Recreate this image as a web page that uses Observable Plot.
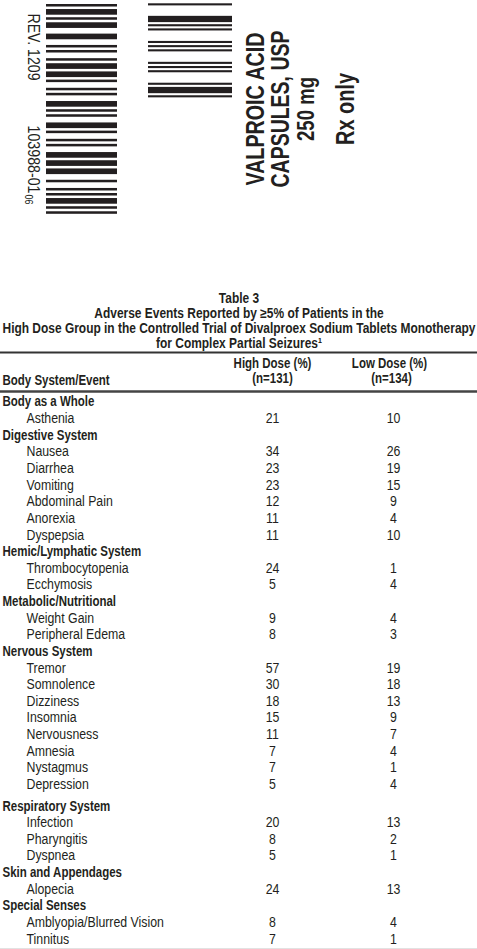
<!DOCTYPE html>
<html><head><meta charset="utf-8">
<script src="https://cdn.jsdelivr.net/npm/d3@7"></script>
<script src="https://cdn.jsdelivr.net/npm/@observablehq/plot@0.6"></script>
<style>html,body{margin:0;padding:0;background:#fff;} svg{display:block}</style>
</head><body><div id="chart"></div>
<script>
// ---------- data ----------
const titleLines = [
  "Table 3",
  "Adverse Events Reported by \u22655% of Patients in the",
  "High Dose Group in the Controlled Trial of Divalproex Sodium Tablets Monotherapy",
  "for Complex Partial Seizures\u00b9"
];
const columnHeaders = ["Body System/Event", "High Dose (%)", "(n=131)", "Low Dose (%)", "(n=134)"];
const bodySystems = ["Body as a Whole", "Digestive System", "Hemic/Lymphatic System", "Metabolic/Nutritional",
  "Nervous System", "Respiratory System", "Skin and Appendages", "Special Senses"];
const eventNames = [
  ["Asthenia"],
  ["Nausea", "Diarrhea", "Vomiting", "Abdominal Pain", "Anorexia", "Dyspepsia"],
  ["Thrombocytopenia", "Ecchymosis"],
  ["Weight Gain", "Peripheral Edema"],
  ["Tremor", "Somnolence", "Dizziness", "Insomnia", "Nervousness", "Amnesia", "Nystagmus", "Depression"],
  ["Infection", "Pharyngitis", "Dyspnea"],
  ["Alopecia"],
  ["Amblyopia/Blurred Vision", "Tinnitus"]
];
const highDose = [[21], [34, 23, 23, 12, 11, 11], [24, 5], [9, 8], [57, 30, 18, 15, 11, 7, 7, 5], [20, 8, 5], [24], [8, 7]];
const lowDose  = [[10], [26, 19, 15, 9, 4, 10], [1, 4], [4, 3], [19, 18, 13, 9, 7, 4, 1, 4], [13, 2, 1], [13], [4, 1]];
const productLines = ["VALPROIC ACID", "CAPSULES, USP", "250 mg", "Rx only"];
const revisionText = "REV. 1209";
const codeText = "103988-01";
const codeSuffix = "06";
// barcode element widths, alternating bar / space (n = narrow, w = wide)
const leftBarcode = ["nn","wn","nn","ww","ww","nn","nw","nn","wn","wn","nw","nn","nw","wn","nn","nw","wn","nw","nn","nw","wn","wn","ww","nw","nn","nn","wn","nn","n"].join("");
// pharmacode-like element widths in modules, alternating bar / space
const rightBarcode = [1,5,3,1,1,1,1,5,1,1,1,1,1,5,1,1,1,1,1,5,1,1,3,1,1];

// ---------- layout ----------
const W = 477, H = 949;
const ink = "#231f20";
const font = "'Liberation Sans',Arial,Helvetica,sans-serif";

// barcodes
const bars = [];
{
  let y = 4; const n = 2.52, w = 5.67;
  [...leftBarcode].forEach((c, i) => {
    const h = c === "w" ? w : n;
    if (i % 2 === 0) bars.push({x1: 46, x2: 117, y1: y, y2: y + h});
    y += h;
  });
  y = 3.3; const m = 2.09;
  rightBarcode.forEach((u, i) => {
    const h = u * m;
    if (i % 2 === 0) bars.push({x1: 148, x2: 232, y1: y, y2: y + h});
    y += h;
  });
}

// product label (rotated)
const productX = [255, 280, 306, 345];
const productSize = [25.5, 25.5, 23, 25];
const productLen = [153, 157, 64, 72];
const product = productLines.map((t, i) => ({text: t, x: productX[i], y: 108.5, size: productSize[i]}));

// table rows
const rowStep = 16.63, firstRow = 401.5, gapAfter = 4; // small extra gap before the Respiratory group
const rows = [];
{
  let r = 0;
  bodySystems.forEach((sys, g) => {
    const extra = g > gapAfter ? 5 : 0;
    rows.push({label: sys, header: true, y: firstRow + r * rowStep + extra});
    r++;
    eventNames[g].forEach((ev, j) => {
      rows.push({label: ev, header: false, high: highDose[g][j], low: lowDose[g][j],
        y: firstRow + r * rowStep + extra});
      r++;
    });
  });
}
const titleY = [298.5, 313.5, 328.5, 343];
const titles = titleLines.map((t, i) => ({text: t, y: titleY[i]}));
const heads = [
  {text: columnHeaders[0], x: 2, y: 380, anchor: "start"},
  {text: columnHeaders[1], x: 272, y: 363.5, anchor: "middle"},
  {text: columnHeaders[2], x: 272, y: 378.5, anchor: "middle"},
  {text: columnHeaders[3], x: 389, y: 363.5, anchor: "middle"},
  {text: columnHeaders[4], x: 391, y: 378.5, anchor: "middle"}
];
const rules = [
  {y: 352, stroke: "#333", w: 2},
  {y: 391, stroke: "#444", w: 2.5},
  {y: 948, stroke: "#e2e2e2", w: 1}
];
const events = rows.filter(d => !d.header);

const chart = Plot.plot({
  width: W, height: H, margin: 0,
  x: {domain: [0, W], range: [0, W], axis: null},
  y: {domain: [0, H], range: [0, H], axis: null},
  style: {background: "#fff"},
  marks: [
    Plot.rect(bars, {x1: "x1", x2: "x2", y1: "y1", y2: "y2", fill: ink}),
    Plot.ruleY(rules, {y: "y", x1: 0, x2: W, stroke: "stroke", strokeWidth: "w"}),
    // text mark 0..2: side codes
    Plot.text([revisionText], {x: () => 33, y: () => 13, text: d => d, rotate: 90, textAnchor: "start",
      fontSize: 17, fontFamily: font, fill: ink}),
    Plot.text([codeText], {x: () => 33, y: () => 125, text: d => d, rotate: 90, textAnchor: "start",
      fontSize: 17, fontFamily: font, fill: ink}),
    Plot.text([codeSuffix], {x: () => 28.5, y: () => 194, text: d => d, rotate: 90, textAnchor: "start",
      fontSize: 11, fontFamily: font, fill: ink}),
    // 3: product label
    Plot.text(product, {x: "x", y: "y", text: "text", rotate: -90, textAnchor: "middle", fontSize: d => d.size,
      fontWeight: "bold", fontFamily: font, fill: ink}),
    // 4: titles
    Plot.text(titles, {x: () => 238.5, y: "y", text: "text", textAnchor: "middle", fontSize: 14,
      fontWeight: "bold", fontFamily: font, fill: ink}),
    // 5,6: headers
    Plot.text(heads, {x: "x", y: "y", text: "text", textAnchor: "start", fontSize: 14, fontWeight: "bold",
      fontFamily: font, fill: ink, filter: d => d.anchor === "start"}),
    Plot.text(heads, {x: "x", y: "y", text: "text", textAnchor: "middle", fontSize: 14, fontWeight: "bold",
      fontFamily: font, fill: ink, filter: d => d.anchor === "middle"}),
    // 7: body systems
    Plot.text(rows.filter(d => d.header), {x: () => 2, y: "y", text: "label", textAnchor: "start", fontSize: 14,
      fontWeight: "bold", fontFamily: font, fill: ink}),
    // 8..10: events and values
    Plot.text(events, {x: () => 26, y: "y", text: "label", textAnchor: "start", fontSize: 14,
      fontFamily: font, fill: ink}),
    Plot.text(events, {x: () => 272, y: "y", text: d => String(d.high), textAnchor: "middle", fontSize: 14,
      fontFamily: font, fill: ink}),
    Plot.text(events, {x: () => 393, y: "y", text: d => String(d.low), textAnchor: "middle", fontSize: 14,
      fontFamily: font, fill: ink})
  ]
});
document.getElementById("chart").appendChild(chart);

// condense the type like the printed condensed face
const textGroups = [...chart.querySelectorAll("g")].filter(g => g.querySelector(":scope > text"));
function condense(g, f) {
  g.querySelectorAll(":scope > text").forEach(t => {
    const L = t.getComputedTextLength();
    t.setAttribute("textLength", (L * f).toFixed(2));
    t.setAttribute("lengthAdjust", "spacingAndGlyphs");
  });
}
function fit(g, lens) {
  g.querySelectorAll(":scope > text").forEach((t, i) => {
    t.setAttribute("textLength", lens[i]);
    t.setAttribute("lengthAdjust", "spacingAndGlyphs");
  });
}
fit(textGroups[0], [67]);
fit(textGroups[1], [68]);
fit(textGroups[2], [10]);
fit(textGroups[3], productLen);
{
  const tt = [...textGroups[4].querySelectorAll(":scope > text")];
  const f = 473 / tt[2].getComputedTextLength();
  condense(textGroups[4], f);
}
[5, 6, 7].forEach(i => condense(textGroups[i], 0.82));
[8, 9, 10].forEach(i => condense(textGroups[i], 0.88));
</script>
</body></html>
